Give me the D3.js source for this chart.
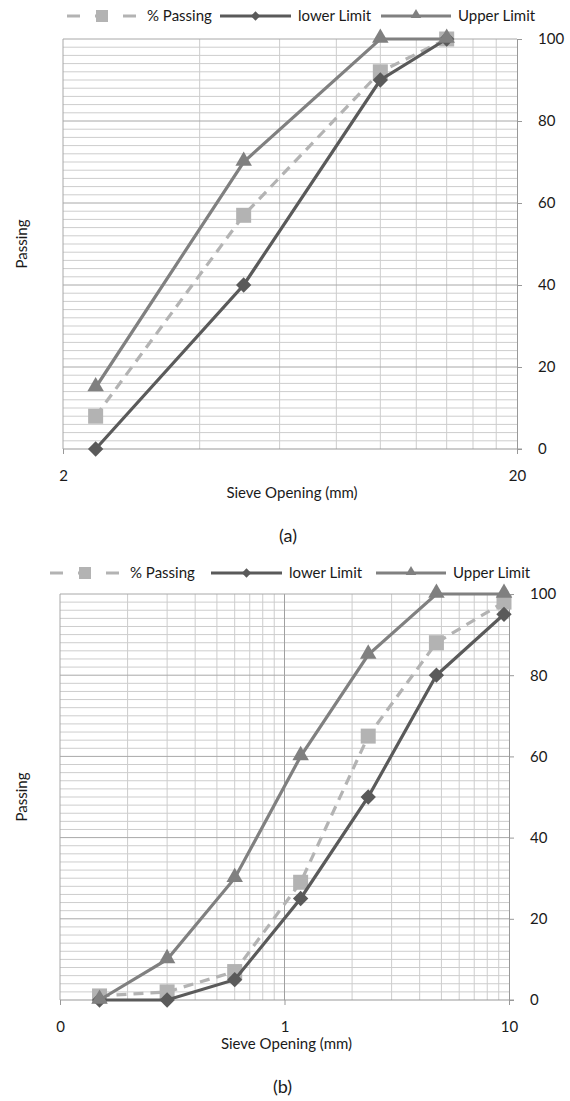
<!DOCTYPE html>
<html>
<head>
<meta charset="utf-8">
<script src="https://cdn.jsdelivr.net/npm/d3@7/dist/d3.min.js"></script>
<style>
  html, body { margin: 0; padding: 0; background: #fff; }
  svg { display: block; }
  text { font-family: Lato, "Open Sans", sans-serif; fill: #1a1a1a; }
</style>
</head>
<body>
<svg id="chart" width="570" height="1101"></svg>
<script>
// Gradation data, chart (a)
const sievesA = [2.36, 5, 10, 14];
const passingA = [8, 57, 92, 100];
const lowerA = [0, 40, 90, 100];
const upperA = [15, 70, 100, 100];

// Gradation data, chart (b)
const sievesB = [0.15, 0.3, 0.6, 1.18, 2.36, 4.75, 9.5];
const passingB = [1, 2, 7, 29, 65, 88, 98];
const lowerB = [0, 0, 5, 25, 50, 80, 95];
const upperB = [0, 10, 30, 60, 85, 100, 100];

// Axis ticks and labels
const xTicksA = [2, 20];
const xLabelsA = ["2", "20"];
const xTicksB = [0.1, 1, 10];
const xLabelsB = ["0", "1", "10"];
const yTicks = [0, 20, 40, 60, 80, 100];
const seriesNames = ["% Passing", "lower Limit", "Upper Limit"];
const xTitle = "Sieve Opening (mm)";
const yTitle = "Passing";

const colPass = "#b3b3b3", colLower = "#5a5a5a", colUpper = "#808080";
const FS = 15;
const svg = d3.select("#chart");

function drawChart(cfg) {
  const g = svg.append("g");
  const x = d3.scaleLog().domain(cfg.xDomain).range([cfg.left, cfg.right]);
  const y = d3.scaleLinear().domain([0, 100]).range([cfg.bottom, cfg.top]);

  // minor vertical grid: k * 10^n inside domain
  const minorX = [];
  let dec = cfg.xDomain[0];
  while (dec < cfg.xDomain[1] - 1e-9) {
    for (let k = 2; k <= 9; k++) minorX.push(dec * k);
    dec *= 10;
  }
  const grid = g.append("g");
  grid.selectAll("line.mx").data(minorX).join("line")
    .attr("x1", d => x(d)).attr("x2", d => x(d))
    .attr("y1", cfg.top).attr("y2", cfg.bottom)
    .attr("stroke", "#cdcdcd").attr("stroke-width", 1);
  grid.selectAll("line.my").data(d3.range(0, 101, 2).filter(v => v % 20 !== 0)).join("line")
    .attr("x1", cfg.left).attr("x2", cfg.right)
    .attr("y1", d => y(d)).attr("y2", d => y(d))
    .attr("stroke", "#cdcdcd").attr("stroke-width", 1);
  grid.selectAll("line.MX").data(cfg.xTicks.slice(1, -1)).join("line")
    .attr("x1", d => x(d)).attr("x2", d => x(d))
    .attr("y1", cfg.top).attr("y2", cfg.bottom)
    .attr("stroke", "#a0a0a0").attr("stroke-width", 1);
  grid.selectAll("line.MY").data(yTicks.filter(v => v > 0 && v < 100)).join("line")
    .attr("x1", cfg.left).attr("x2", cfg.right)
    .attr("y1", d => y(d)).attr("y2", d => y(d))
    .attr("stroke", "#a8a8a8").attr("stroke-width", 1);
  // frame: top and left edges
  grid.append("line").attr("x1", cfg.left).attr("x2", cfg.right)
    .attr("y1", cfg.top).attr("y2", cfg.top).attr("stroke", "#a8a8a8");
  grid.append("line").attr("x1", cfg.left).attr("x2", cfg.left)
    .attr("y1", cfg.top).attr("y2", cfg.bottom).attr("stroke", "#a8a8a8");

  // right value axis
  const yAxis = d3.axisRight(y).tickValues(yTicks).tickSize(5).tickPadding(16)
    .tickFormat(d3.format("d"));
  const ya = g.append("g").attr("transform", `translate(${cfg.right},0)`).call(yAxis);
  ya.select(".domain").attr("stroke", "#999");
  ya.selectAll(".tick line").attr("stroke", "#999");
  ya.selectAll(".tick text").attr("font-size", FS).attr("font-family", "Lato").attr("fill", "#1a1a1a");

  // bottom axis
  const xAxis = d3.axisBottom(x).tickValues(cfg.xTicks).tickSize(5).tickPadding(16)
    .tickFormat((d, i) => cfg.xLabels[i]);
  const xa = g.append("g").attr("transform", `translate(0,${cfg.bottom})`).call(xAxis);
  xa.select(".domain").attr("stroke", "#999").attr("d", `M${cfg.left},0H${cfg.right + 5}`);
  xa.selectAll(".tick line").attr("stroke", "#999");
  xa.selectAll(".tick text").attr("font-size", FS).attr("font-family", "Lato").attr("fill", "#1a1a1a");

  // titles
  g.append("text").attr("x", (cfg.left + cfg.right) / 2 + 2).attr("y", cfg.bottom + 49)
    .attr("text-anchor", "middle").attr("font-size", FS).text(xTitle);
  g.append("text").attr("transform", `translate(27,${(cfg.top + cfg.bottom) / 2}) rotate(-90)`)
    .attr("text-anchor", "middle").attr("font-size", FS).text(yTitle);
  g.append("text").attr("x", (cfg.left + cfg.right) / 2 - 2).attr("y", cfg.bottom + 93)
    .attr("text-anchor", "middle").attr("font-size", 18).text(cfg.caption);

  // series
  const line = d3.line().x(d => x(d[0])).y(d => y(d[1]));
  const pass = cfg.sieves.map((s, i) => [s, cfg.passing[i]]);
  const low = cfg.sieves.map((s, i) => [s, cfg.lower[i]]);
  const up = cfg.sieves.map((s, i) => [s, cfg.upper[i]]);

  g.append("path").datum(pass).attr("d", line).attr("fill", "none")
    .attr("stroke", colPass).attr("stroke-width", 3.2).attr("stroke-dasharray", "10,7");
  g.selectAll("rect.p").data(pass).join("rect")
    .attr("x", d => x(d[0]) - 7.5).attr("y", d => y(d[1]) - 7.5)
    .attr("width", 15).attr("height", 15).attr("fill", colPass);

  g.append("path").datum(low).attr("d", line).attr("fill", "none")
    .attr("stroke", colLower).attr("stroke-width", 3.2);
  g.selectAll("path.l").data(low).join("path")
    .attr("d", d3.symbol(d3.symbolDiamond2, 150)())
    .attr("transform", d => `translate(${x(d[0])},${y(d[1])})`)
    .attr("fill", colLower);

  g.append("path").datum(up).attr("d", line).attr("fill", "none")
    .attr("stroke", colUpper).attr("stroke-width", 3.2);
  g.selectAll("path.u").data(up).join("path")
    .attr("d", d3.symbol(d3.symbolTriangle2, 195)())
    .attr("transform", d => `translate(${x(d[0])},${y(d[1]) - 1})`)
    .attr("fill", colUpper);

  // legend
  const L = cfg.legend, ly = cfg.legendY;
  const lg = g.append("g");
  lg.append("line").attr("x1", L[0]).attr("x2", L[0] + 70).attr("y1", ly).attr("y2", ly)
    .attr("stroke", colPass).attr("stroke-width", 3.2).attr("stroke-dasharray", "13,15");
  lg.append("rect").attr("x", L[0] + 29).attr("y", ly - 6).attr("width", 12).attr("height", 12).attr("fill", colPass);
  lg.append("text").attr("x", L[0] + 80).attr("y", ly).attr("dy", "0.35em").attr("font-size", FS).text(seriesNames[0]);
  lg.append("line").attr("x1", L[1]).attr("x2", L[1] + 71).attr("y1", ly).attr("y2", ly)
    .attr("stroke", colLower).attr("stroke-width", 3.2);
  lg.append("path").attr("d", d3.symbol(d3.symbolDiamond2, 55)())
    .attr("transform", `translate(${L[1] + 35.5},${ly})`).attr("fill", colLower);
  lg.append("text").attr("x", L[1] + 78).attr("y", ly).attr("dy", "0.35em").attr("font-size", FS).text(seriesNames[1]);
  lg.append("line").attr("x1", L[2]).attr("x2", L[2] + 70).attr("y1", ly).attr("y2", ly)
    .attr("stroke", colUpper).attr("stroke-width", 3.2);
  lg.append("path").attr("d", d3.symbol(d3.symbolTriangle2, 80)())
    .attr("transform", `translate(${L[2] + 35},${ly - 1})`).attr("fill", colUpper);
  lg.append("text").attr("x", L[2] + 77).attr("y", ly).attr("dy", "0.35em").attr("font-size", FS).text(seriesNames[2]);
}

drawChart({
  xDomain: [2, 20], left: 63, right: 517, top: 39, bottom: 449,
  xTicks: xTicksA, xLabels: xLabelsA,
  sieves: sievesA, passing: passingA, lower: lowerA, upper: upperA,
  legend: [67, 220, 381], legendY: 16, caption: "(a)"
});
drawChart({
  xDomain: [0.1, 10], left: 60, right: 509, top: 594, bottom: 1000,
  xTicks: xTicksB, xLabels: xLabelsB,
  sieves: sievesB, passing: passingB, lower: lowerB, upper: upperB,
  legend: [50, 211, 376], legendY: 573, caption: "(b)"
});
</script>
</body>
</html>
